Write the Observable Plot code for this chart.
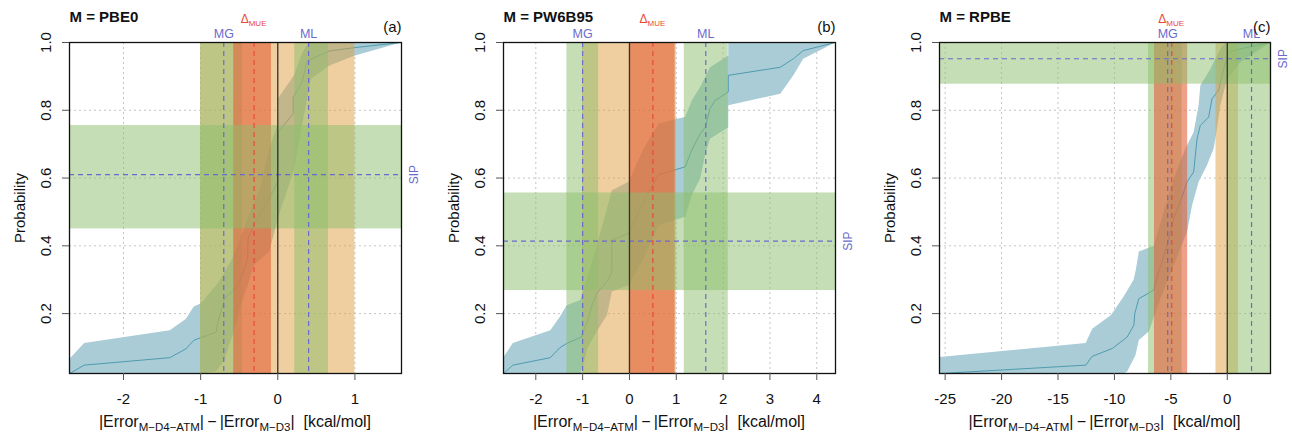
<!DOCTYPE html>
<html><head><meta charset="utf-8">
<script src="https://cdn.jsdelivr.net/npm/d3@7"></script>
<script src="https://cdn.jsdelivr.net/npm/@observablehq/plot@0.6"></script>
<style>
body{margin:0;background:#fff;font-family:"Liberation Sans",Arial,sans-serif;}
#wrap{display:flex;width:1292px;height:439px;overflow:hidden;}
#wrap svg{display:block;font-family:"Liberation Sans",Arial,sans-serif;}
</style></head><body><div id="wrap"></div>
<script>
// ---------- data ----------
const yTicks = [0.2, 0.4, 0.6, 0.8, 1.0];

// Panel (a) M = PBE0
const pbe0LineX = [-2.70,-2.51,-1.40,-1.19,-1.09,-1.0,-0.80,-0.78,-0.69,-0.59,-0.50,-0.39,-0.385,-0.31,-0.11,0.0,0.01,0.20,0.20,0.32,0.38,0.67,1.0,1.60];
const pbe0LineY = [0.023,0.048,0.070,0.096,0.121,0.129,0.145,0.171,0.245,0.265,0.289,0.363,0.422,0.461,0.540,0.59,0.736,0.79,0.838,0.887,0.946,0.975,0.985,1.0];
const pbe0UpX = [-2.70,-2.51,-1.40,-1.19,-1.09,-1.0,-0.78,-0.59,-0.39,-0.22,-0.11,0.0,0.0,0.21,0.32,0.40,1.60];
const pbe0UpY = [0.067,0.113,0.151,0.185,0.221,0.23,0.289,0.363,0.481,0.579,0.687,0.76,0.834,0.903,0.972,1.0,1.0];
const pbe0LoX = [-2.70,-1.0,-0.80,-0.70,-0.57,-0.48,-0.39,-0.31,-0.11,0.0,0.21,0.33,0.43,0.67,1.0,1.60];
const pbe0LoY = [0.023,0.023,0.03,0.059,0.147,0.225,0.284,0.343,0.383,0.481,0.623,0.775,0.893,0.932,0.962,1.0];

// Panel (b) M = PW6B95
const pw6LineX = [-2.69,-2.49,-1.69,-1.49,-1.34,-1.02,-0.995,-0.90,-0.80,-0.70,-0.48,-0.376,-0.376,-0.02,0.30,0.62,1.19,1.33,1.51,1.62,1.72,1.83,2.11,2.11,3.22,3.50,3.71,4.39];
const pw6LineY = [0.023,0.048,0.070,0.099,0.112,0.131,0.147,0.176,0.225,0.26,0.294,0.324,0.417,0.436,0.53,0.61,0.633,0.682,0.731,0.75,0.805,0.829,0.854,0.903,0.927,0.952,0.976,1.0];
const pw6UpX = [-2.69,-2.49,-1.69,-1.49,-1.34,-1.05,-0.70,-0.376,-0.02,0.30,0.62,1.01,1.19,1.33,1.51,1.72,2.11,2.11,4.39];
const pw6UpY = [0.072,0.113,0.151,0.19,0.225,0.24,0.40,0.564,0.589,0.687,0.76,0.775,0.78,0.829,0.869,0.927,0.962,1.0,1.0];
const pw6LoX = [-2.69,-1.05,-0.98,-0.90,-0.70,-0.48,-0.376,-0.02,0.30,0.62,1.19,1.33,1.51,1.62,1.72,2.11,2.11,3.22,3.50,3.71,4.39];
const pw6LoY = [0.023,0.023,0.049,0.098,0.147,0.196,0.265,0.284,0.363,0.461,0.486,0.549,0.599,0.672,0.716,0.75,0.815,0.849,0.903,0.952,1.0];

// Panel (c) M = RPBE
const rpbeLineX = [-25.5,-12.53,-11.97,-10.2,-8.87,-8.28,-8.2,-7.84,-6.52,-6.07,-5.33,-4.75,-4.16,-3.56,-2.98,-2.68,-2.39,-1.65,-1.35,-0.77,-0.32,0.12,1.15,3.8];
const rpbeLineY = [0.023,0.048,0.074,0.097,0.131,0.166,0.2,0.244,0.269,0.324,0.40,0.481,0.53,0.589,0.618,0.716,0.755,0.78,0.834,0.859,0.922,0.972,0.981,1.0];
const rpbeUpX = [-25.5,-12.55,-11.97,-10.3,-9.2,-8.3,-8.1,-7.84,-6.52,-5.63,-4.75,-3.71,-2.98,-2.54,-2.39,-1.5,-1.06,-0.47,0.0,3.8];
const rpbeUpY = [0.072,0.113,0.155,0.196,0.25,0.30,0.33,0.383,0.40,0.50,0.598,0.687,0.736,0.815,0.873,0.922,0.952,0.99,1.0,1.0];
const rpbeLoX = [-25.5,-9.2,-8.87,-8.13,-7.84,-6.96,-5.92,-4.75,-3.56,-3.12,-2.54,-1.8,-1.21,-0.91,-0.62,0.0,1.15,3.8];
const rpbeLoY = [0.023,0.023,0.029,0.078,0.122,0.147,0.245,0.343,0.442,0.52,0.589,0.638,0.687,0.746,0.815,0.893,0.942,1.0];

// summary statistics per panel: [PBE0, PW6B95, RPBE]
const methods   = ["PBE0", "PW6B95", "RPBE"];
const tags      = ["(a)", "(b)", "(c)"];
const accuracy  = [[-1, 1], [-1, 1], [-1, 1]];
const mgValue   = [-0.70, -1.00, -5.28];
const mgCI      = [[-1.0, -0.458], [-1.336, -0.66], [-6.98, -4.0]];
const mlValue   = [0.40, 1.63, 2.15];
const mlCI      = [[0.22, 0.657], [1.17, 2.11], [0.0, 4.5]];
const dmueValue = [-0.307, 0.50, -4.92];
const dmueCI    = [[-0.571, -0.082], [0.0, 0.975], [-6.45, -3.51]];
const sipValue  = [0.610, 0.414, 0.952];
const sipCI     = [[0.45, 0.755], [0.268, 0.556], [0.877, 1.0]];
const xDomains  = [[-2.70, 1.604], [-2.69, 4.40], [-25.5, 3.83]];
const xTicks    = [[-2, -1, 0, 1], [-2, -1, 0, 1, 2, 3, 4], [-25, -20, -15, -10, -5, 0]];

const lines = [[pbe0LineX, pbe0LineY], [pw6LineX, pw6LineY], [rpbeLineX, rpbeLineY]];
const bands = [[pbe0UpX, pbe0UpY, pbe0LoX, pbe0LoY], [pw6UpX, pw6UpY, pw6LoX, pw6LoY], [rpbeUpX, rpbeUpY, rpbeLoX, rpbeLoY]];

// ---------- layout / style ----------
const layout = [
  {width: 430, ml: 69, mr: 29},
  {width: 430, ml: 73, mr: 25},
  {width: 432, ml: 79, mr: 22}
];
const FONT = "Liberation Sans, Arial, Helvetica, sans-serif";
const BLUE = "#6a6acd", RED = "#e8493a";
const ORANGE = "#dfa040", GREEN = "#8bbd6b", REDBAND = "#e3603a";
const BANDBLUE = "#a9ccd6", LINEBLUE = "#4f9bb0";

const wrap = document.getElementById("wrap");

for (let i = 0; i < 3; i++) {
  const L = layout[i];
  const [lx, ly] = lines[i];
  const [ux, uy, lox, loy] = bands[i];
  const line = lx.map((x, k) => ({x, y: ly[k]}));
  const poly = ux.map((x, k) => ({x, y: uy[k]}))
    .concat(lox.map((x, k) => ({x, y: loy[k]})).reverse());

  const plot = Plot.plot({
    width: L.width, height: 439,
    marginTop: 42, marginBottom: 66, marginLeft: L.ml, marginRight: L.mr,
    style: {fontFamily: FONT, background: "white", color: "#111"},
    x: {domain: xDomains[i]},
    y: {domain: [0.0233, 1.0]},
    marks: [
      Plot.gridX(xTicks[i], {stroke: "#c4c4c4", strokeOpacity: 1, strokeDasharray: "2,3"}),
      Plot.gridY(yTicks, {stroke: "#c4c4c4", strokeOpacity: 1, strokeDasharray: "2,3"}),
      Plot.line(poly, {x: "x", y: "y", fill: BANDBLUE, stroke: "none", clip: true}),
      Plot.line(line, {x: "x", y: "y", stroke: LINEBLUE, strokeWidth: 1, clip: true}),
      Plot.rect([accuracy[i]], {x1: d => d[0], x2: d => d[1], fill: ORANGE, fillOpacity: 0.5, clip: true}),
      Plot.rect([mgCI[i], mlCI[i]], {x1: d => d[0], x2: d => d[1], fill: GREEN, fillOpacity: 0.5, clip: true}),
      Plot.rect([dmueCI[i]], {x1: d => d[0], x2: d => d[1], fill: REDBAND, fillOpacity: 0.6, clip: true}),
      Plot.rect([sipCI[i]], {y1: d => d[0], y2: d => d[1], fill: GREEN, fillOpacity: 0.5, clip: true}),
      Plot.ruleX([mgValue[i], mlValue[i]], {stroke: BLUE, strokeWidth: 1.2, strokeDasharray: "5,4"}),
      Plot.ruleY([sipValue[i]], {stroke: BLUE, strokeWidth: 1.2, strokeDasharray: "5,4"}),
      Plot.ruleX([dmueValue[i]], {stroke: RED, strokeWidth: 1.2, strokeDasharray: "5,4"}),
      Plot.ruleX([0], {stroke: "#333", strokeWidth: 1.3}),
      Plot.frame({stroke: "#111", strokeWidth: 1.3}),
      Plot.axisX({ticks: xTicks[i], tickSize: 7, tickPadding: 13, fontSize: 15,
                  tickFormat: d => String(d), label: null, stroke: "#555"}),
      Plot.axisY({ticks: yTicks, tickSize: 7, tickFormat: () => "", label: null, stroke: "#555"}),
      Plot.text(yTicks, {y: d => d, text: d => d.toFixed(1), frameAnchor: "left", dx: -19,
                         rotate: -90, textAnchor: "middle", lineAnchor: "bottom", fontSize: 15, fill: "#111"}),
      Plot.text(["Probability"], {text: d => d, frameAnchor: "left", dx: -45, rotate: -90,
                         textAnchor: "middle", lineAnchor: "bottom", fontSize: 15, fill: "#111"}),
      Plot.text([{x: mgValue[i], t: "MG"}, {x: mlValue[i], t: "ML"}],
                {x: "x", text: "t", frameAnchor: "top", dy: -5, lineAnchor: "bottom",
                 textAnchor: "middle", fontSize: 12.5, fill: BLUE}),
      Plot.text([sipValue[i]], {y: d => d, text: () => "SIP", frameAnchor: "right", dx: 16,
                 rotate: -90, textAnchor: "middle", lineAnchor: "bottom", fontSize: 12, fill: BLUE}),
      Plot.text([tags[i]], {text: d => d, frameAnchor: "top-right", dy: -11, lineAnchor: "bottom",
                 textAnchor: "end", fontSize: 15, fill: "#111"}),
      Plot.text(["M = " + methods[i]], {text: d => d, frameAnchor: "top-left", dy: -21, lineAnchor: "bottom",
                 textAnchor: "start", fontSize: 15, fontWeight: "bold", fill: "#111"})
    ]
  });

  const svg = d3.select(plot);
  const xs = plot.scale("x");
  // Delta_MUE label
  const dm = svg.append("text")
    .attr("x", xs.apply(dmueValue[i])).attr("y", 23)
    .attr("text-anchor", "middle").attr("fill", RED)
    .style("font-size", "12px").style("font-family", FONT);
  dm.append("tspan").text("\u0394");
  dm.append("tspan").style("font-size", "8px").attr("dy", 2.5).text("MUE");

  // x-axis label with subscripts
  const cx = (L.ml + L.width - L.mr) / 2;
  const t = svg.append("text")
    .attr("x", cx).attr("y", 427).attr("text-anchor", "middle")
    .style("font-size", "16px").attr("fill", "#111").style("font-family", FONT);
  t.append("tspan").text("|Error");
  t.append("tspan").style("font-size", "11.5px").attr("dy", 4).text("M\u2212D4\u2212ATM");
  t.append("tspan").attr("dy", -4).text("|\u2009\u2212\u2009|Error");
  t.append("tspan").style("font-size", "11.5px").attr("dy", 4).text("M\u2212D3");
  t.append("tspan").attr("dy", -4).text("|\u00a0\u00a0[kcal/mol]");

  wrap.appendChild(plot);
}
</script>
</body></html>
